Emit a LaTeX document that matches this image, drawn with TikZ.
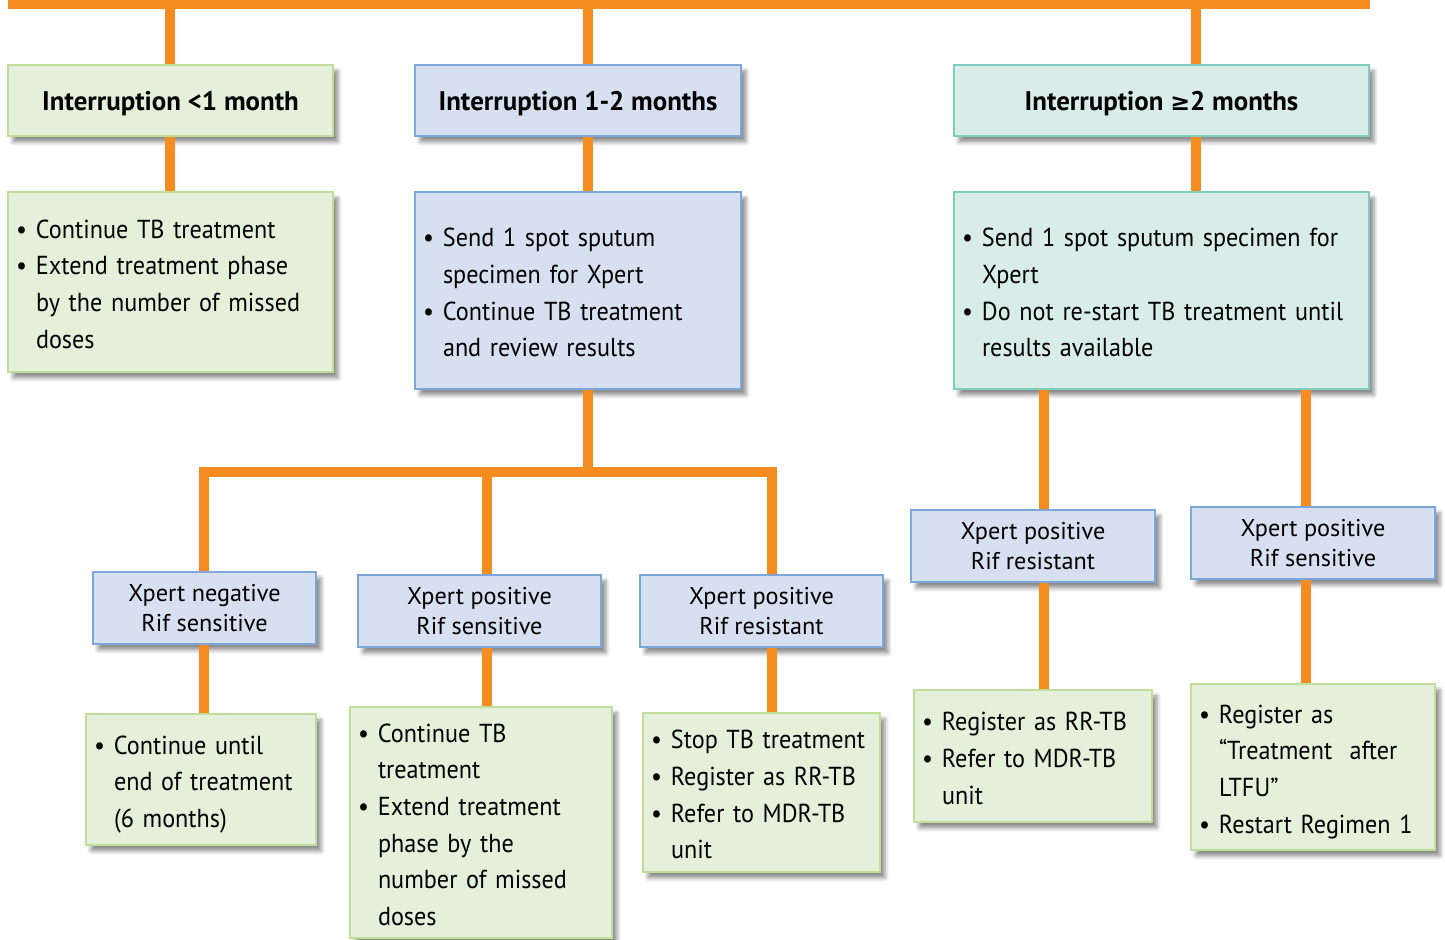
\documentclass[tikz,border=0pt]{standalone}
\usepackage{fontspec}
\setmainfont{PT Sans}
\newfontfamily\bodyfont{PT Sans}[FakeStretch=0.93]
\newfontfamily\symfont{DejaVu Sans}
\usetikzlibrary{shadows.blur}
\definecolor{orng}{rgb}{0.96,0.55,0.12}
\definecolor{grnfill}{rgb}{0.90,0.94,0.86}
\definecolor{grnline}{rgb}{0.75,0.87,0.60}
\definecolor{blufill}{rgb}{0.84,0.88,0.94}
\definecolor{bluline}{rgb}{0.49,0.65,0.85}
\definecolor{tealfill}{rgb}{0.85,0.93,0.91}
\definecolor{tealline}{rgb}{0.50,0.80,0.75}
\newcommand{\bul}{\makebox[0.4cm][l]{\textbullet}}
\newcommand{\pts}[1]{\raisebox{-0.08cm}[\height][\depth]{\begin{tabular}{@{}l@{}l@{}}#1\end{tabular}}}
\newcommand{\hd}[1]{\raisebox{-0.06cm}[\height][\depth]{#1}}

\begin{document}
\begin{tikzpicture}[line cap=butt,line join=miter,x=1.0cm,y=1.0cm,
  link/.style={draw=orng,line width=0.2cm},
  box/.style={draw,line width=1.6pt,inner xsep=0.16cm,inner ysep=0pt,
    blur shadow={shadow xshift=0.1cm,shadow yshift=-0.12cm,shadow blur radius=0.08cm,shadow opacity=45}},
  grnbox/.style={box,fill=grnfill,draw=grnline},
  blubox/.style={box,fill=blufill,draw=bluline},
  tealbox/.style={box,fill=tealfill,draw=tealline},
  head/.style={font=\bfseries\fontsize{15.3}{18}\selectfont,minimum height=1.42cm,align=center},
  list/.style={font=\bodyfont\fontsize{14.8}{20.9}\selectfont,align=left},
  res/.style={font=\fontsize{13.8}{16.6}\selectfont,minimum height=1.44cm,align=center}]
\useasboundingbox (0,0) rectangle (28.9,18.8);
\fill[orng] (0.16,18.62) rectangle (27.4,18.8);
\coordinate (tA) at (3.4,18.71);
\coordinate (tB) at (11.76,18.71);
\coordinate (tC) at (23.92,18.71);
% first row
\node[grnbox,head,minimum width=6.5cm] (a1) at (3.41,16.79) {\hd{Interruption <1 month}};
\node[blubox,head,minimum width=6.52cm] (b1) at (11.56,16.79) {\hd{Interruption 1-2 months}};
\node[tealbox,head,minimum width=8.3cm] (c1) at (23.23,16.79) {\hd{Interruption {\symfont\bfseries\fontsize{13.5}{18}\selectfont ≥}2 months}};
\node[grnbox,list,text width=6.18cm,minimum height=3.6cm] (a2) at (3.41,13.16) {\pts{\bul & Continue TB treatment\\ \bul & Extend treatment phase\\ & by the number of missed\\ & doses}};
\node[blubox,list,text width=6.2cm,minimum height=3.94cm] (b2) at (11.56,12.99) {\pts{\bul & Send 1 spot sputum\\ & specimen for Xpert\\ \bul & Continue TB treatment\\ & and review results}};
\node[tealbox,list,text width=7.98cm,minimum height=3.94cm] (c2) at (23.23,12.99) {\pts{\bul & Send 1 spot sputum specimen for\\ & Xpert\\ \bul & Do not re-start TB treatment until\\ & results available}};
% results
\node[blubox,res,minimum width=4.46cm] (d1) at (4.09,6.64) {Xpert negative\\Rif sensitive};
\node[blubox,res,minimum width=4.86cm] (d2) at (9.59,6.58) {Xpert positive\\Rif sensitive};
\node[blubox,res,minimum width=4.86cm] (d3) at (15.23,6.58) {Xpert positive\\Rif resistant};
\node[blubox,res,minimum width=4.88cm] (f1) at (20.66,7.88) {Xpert positive\\Rif resistant};
\node[blubox,res,minimum width=4.88cm] (f2) at (26.26,7.94) {Xpert positive\\Rif sensitive};
% actions
\node[grnbox,list,text width=4.28cm,minimum height=2.62cm] (e1) at (4.02,3.21) {\pts{\bul & Continue until\\ & end of treatment\\ & (6 months)}};
\node[grnbox,list,text width=4.92cm,minimum height=4.62cm] (e2) at (9.62,2.35) {\pts{\bul & Continue TB\\ & treatment\\ \bul & Extend treatment\\ & phase by the\\ & number of missed\\ & doses}};
\node[grnbox,list,text width=4.42cm,minimum height=3.18cm] (e3) at (15.23,2.95) {\pts{\bul & Stop TB treatment\\ \bul & Register as RR-TB\\ \bul & Refer to MDR-TB\\ & unit}};
\node[grnbox,list,text width=4.44cm,minimum height=2.64cm] (g1) at (20.66,3.68) {\pts{\bul & Register as RR-TB\\ \bul & Refer to MDR-TB\\ & unit}};
\node[grnbox,list,text width=4.56cm,minimum height=3.32cm] (g2) at (26.26,3.46) {\pts{\bul & Register as\\ & “Treatment\ \ after\\ & LTFU”\\ \bul & Restart Regimen 1}};
% connectors
\draw[link] (tA) -- (tA |- a1.north);
\draw[link] (tB) -- (tB |- b1.north);
\draw[link] (tC) -- (tC |- c1.north);
\draw[link] (a1.south -| tA) -- (a2.north -| tA);
\draw[link] (b1.south -| tB) -- (b2.north -| tB);
\draw[link] (c1.south -| tC) -- (c2.north -| tC);
\coordinate (jL) at (4.08,9.36);
\coordinate (jM) at (9.74,9.36);
\coordinate (jB) at (11.76,9.36);
\coordinate (jR) at (15.44,9.36);
\draw[link] (b2.south -| jB) -- (jB);
\draw[link] (d1.north -| jL) -- (jL) -- (jR) -- (d3.north -| jR);
\draw[link] (jM) -- (d2.north -| jM);
\draw[link] (d1.south -| jL) -- (e1.north -| jL);
\draw[link] (d2.south -| jM) -- (e2.north -| jM);
\draw[link] (d3.south -| jR) -- (e3.north -| jR);
\coordinate (kL) at (20.88,0);
\coordinate (kR) at (26.12,0);
\draw[link] (c2.south -| kL) -- (f1.north -| kL);
\draw[link] (c2.south -| kR) -- (f2.north -| kR);
\draw[link] (f1.south -| kL) -- (g1.north -| kL);
\draw[link] (f2.south -| kR) -- (g2.north -| kR);
\end{tikzpicture}
\end{document}
